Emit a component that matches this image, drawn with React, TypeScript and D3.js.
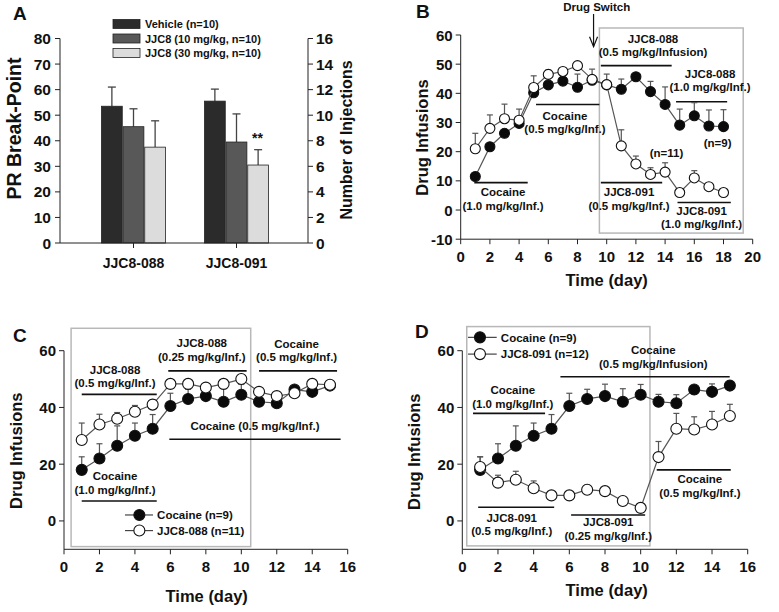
import React from "react";
import * as d3 from "d3";

const FONT = "'Liberation Sans', Arial, Helvetica, sans-serif";

// ---------- Panel A data ----------
const compoundsA = ["JJC8-088", "JJC8-091"];
const groupsA = ["Vehicle (n=10)", "JJC8 (10 mg/kg, n=10)", "JJC8 (30 mg/kg, n=10)"];
const meansA088 = [53.5, 45.5, 37.5];
const meansA091 = [55.5, 39.5, 30.5];
const semA088 = [7.5, 7, 10.3];
const semA091 = [4.7, 11, 6];
const yTicksA = [0, 10, 20, 30, 40, 50, 60, 70, 80];
const yRightTicksA = [0, 2, 4, 6, 8, 10, 12, 14, 16];
const colorsA = ["#2b2b2b", "#585858", "#dcdcdc"];

// ---------- Panel B data ----------
const daysB = [1, 2, 3, 4, 5, 6, 7, 8, 9, 10, 11, 12, 13, 14, 15, 16, 17, 18];
const jjc088B = [11.5, 21.7, 26.3, 29.7, 40.2, 42.9, 44.2, 42.1, 44.5, 42.9, 41.4, 45.7, 40.6, 36.2, 29.1, 32.3, 28.8, 28.6];
const semJjc088B = [0, 0, 0, 0, 0, 0, 0, 4.5, 0, 0, 3.5, 0, 3.5, 6, 5.5, 4.5, 5.5, 5.8];
const jjc091B = [21, 28, 31.3, 30.8, 42, 46.5, 47.5, 49.5, 44.8, 43, 22, 15.8, 12.2, 13, 6, 11, 8, 6];
const semJjc091B = [5.3, 4.6, 5, 3.8, 4, 1.5, 1, 1, 3.5, 3.6, 5.5, 2.7, 2.3, 3.2, 0, 2.5, 0, 0];
const xTicksB = [0, 2, 4, 6, 8, 10, 12, 14, 16, 18, 20];
const yTicksB = [-10, 0, 10, 20, 30, 40, 50, 60];

// ---------- Panels C & D data ----------
const daysCD = [1, 2, 3, 4, 5, 6, 7, 8, 9, 10, 11, 12, 13, 14, 15];
const cocaineCD = [18, 22, 26.5, 30, 32.5, 40.5, 43, 44, 42, 44.5, 42, 41.5, 46.3, 45.5, 47.7];
const semCocaineCD = [4.6, 5.2, 7, 4.5, 5, 4.5, 3.4, 4.2, 4.6, 3.6, 2.6, 3, 1, 2.8, 1.2];
const jjc088C = [28.5, 34, 36, 38.5, 41, 48.3, 48.3, 47, 48.3, 50, 45.5, 44, 45, 48.3, 48];
const semJjc088C = [6, 3.6, 2.2, 2.2, 1.6, 1, 1, 1.4, 1, 1, 1, 1, 1, 1, 1];
const jjc091D = [19, 13.5, 14.5, 11.5, 9, 9, 11, 10.5, 7, 4.6, 22.5, 32.5, 32.2, 34, 37];
const semJjc091D = [3.6, 2.6, 3, 2.6, 0.5, 0.5, 1.6, 1, 0.5, 0.5, 5.5, 5.4, 4.5, 4.6, 4.1];
const xTicksCD = [0, 2, 4, 6, 8, 10, 12, 14, 16];
const yTicksCD = [0, 20, 40, 60];

type Series = { values: number[]; sem: number[]; filled: boolean };
type Note = { lines: string[]; tx: number; ty: number; bar?: [number, number, number] };

const Bold = (p: any) => (
  <text fontFamily={FONT} fontWeight="bold" fill="#111" {...p} />
);

function PanelA() {
  const y = d3.scaleLinear().domain([0, 80]).range([243, 38.5]);
  const y2 = d3.scaleLinear().domain([0, 16]).range([243, 38.5]);
  const x = d3.scaleBand().domain(compoundsA).range([82, 288]);
  const x1 = d3.scaleBand().domain(groupsA).range([0, 64]).paddingInner(0.04);
  const means = [meansA088, meansA091];
  const sems = [semA088, semA091];
  const xl = 60, xr = 308;
  return (
    <g>
      <Bold x={13} y={20} fontSize={19}>A</Bold>
      {/* legend */}
      {groupsA.map((g, i) => (
        <g key={g}>
          <rect x={113} y={19.5 + i * 14.5} width={27} height={9} fill={colorsA[i]} stroke="#222" strokeWidth={0.8} />
          <Bold x={145} y={28 + i * 14.5} fontSize={11}>{g}</Bold>
        </g>
      ))}
      {/* bars */}
      {compoundsA.map((c, ci) => {
        const x0 = (x(c) as number) + x.bandwidth() / 2 - 32;
        return groupsA.map((g, gi) => {
          const bx = x0 + (x1(g) as number);
          const w = x1.bandwidth();
          const v = means[ci][gi];
          const top = y(v + sems[ci][gi]);
          return (
            <g key={c + g}>
              <line x1={bx + w / 2} x2={bx + w / 2} y1={y(v)} y2={top} stroke="#444" strokeWidth={1.3} />
              <line x1={bx + w / 2 - 4} x2={bx + w / 2 + 4} y1={top} y2={top} stroke="#444" strokeWidth={1.3} />
              <rect x={bx} y={y(v)} width={w} height={y(0) - y(v)} fill={colorsA[gi]} stroke="#222" strokeWidth={0.8} />
            </g>
          );
        });
      })}
      <Bold x={(x("JJC8-091") as number) + x.bandwidth() / 2 + 21} y={y(39)} fontSize={14} textAnchor="middle">**</Bold>
      {/* axes */}
      <line x1={xl} x2={xl} y1={y(80)} y2={y(0)} stroke="#222" />
      <line x1={xr} x2={xr} y1={y(80)} y2={y(0)} stroke="#222" />
      <line x1={xl} x2={xr} y1={y(0)} y2={y(0)} stroke="#222" />
      {yTicksA.map((t) => (
        <g key={"l" + t}>
          <line x1={xl - 5} x2={xl} y1={y(t)} y2={y(t)} stroke="#222" />
          <Bold x={xl - 9} y={y(t) + 5.5} fontSize={15.5} textAnchor="end">{t}</Bold>
        </g>
      ))}
      {yRightTicksA.map((t) => (
        <g key={"r" + t}>
          <line x1={xr} x2={xr + 5} y1={y2(t)} y2={y2(t)} stroke="#222" />
          <Bold x={xr + 8} y={y2(t) + 5.5} fontSize={15.5}>{t}</Bold>
        </g>
      ))}
      {compoundsA.map((c) => {
        const cx = (x(c) as number) + x.bandwidth() / 2;
        return (
          <g key={c}>
            <line x1={cx} x2={cx} y1={y(0)} y2={y(0) + 5} stroke="#222" />
            <Bold x={cx} y={268} fontSize={14} textAnchor="middle">{c}</Bold>
          </g>
        );
      })}
      <Bold transform="translate(21,128.5) rotate(-90)" fontSize={19.5} textAnchor="middle">PR Break-Point</Bold>
      <Bold transform="translate(352,140) rotate(-90)" fontSize={16} textAnchor="middle">Number of Injections</Bold>
    </g>
  );
}

type PanelCfg = {
  xRange: [number, number];
  xDomain: [number, number];
  yRange: [number, number];
  yDomain: [number, number];
  xTicks: number[];
  yTicks: number[];
  days: number[];
  series: Series[];
  r: number;
  box: [number, number, number, number];
  notes: Note[];
  legend?: { labels: string[]; mx: number; lx: [number, number]; tx: number; ys: number[] };
  letter: [string, number, number];
  ylab: [number, number];
  xlab: [number, number];
};

function LinePanel({ cfg }: { cfg: PanelCfg }) {
  const x = d3.scaleLinear().domain(cfg.xDomain).range(cfg.xRange);
  const y = d3.scaleLinear().domain(cfg.yDomain).range(cfg.yRange);
  const ax = x(cfg.xDomain[0]);
  const ay = y(cfg.yDomain[0]);
  const line = d3
    .line<number>()
    .x((_, i) => x(cfg.days[i]))
    .y((d) => y(d));
  const [b0, b1, bv0, bv1] = cfg.box;
  return (
    <g>
      <Bold x={cfg.letter[1]} y={cfg.letter[2]} fontSize={19}>{cfg.letter[0]}</Bold>
      <rect x={x(b0)} y={y(bv1)} width={x(b1) - x(b0)} height={y(bv0) - y(bv1)} fill="none" stroke="#b8b8b8" strokeWidth={1.5} />
      {/* axes */}
      <line x1={ax} x2={ax} y1={y(cfg.yDomain[1])} y2={ay} stroke="#222" />
      <line x1={ax} x2={x(cfg.xDomain[1])} y1={ay} y2={ay} stroke="#222" />
      {cfg.yTicks.map((t) => (
        <g key={"y" + t}>
          <line x1={ax - 5} x2={ax} y1={y(t)} y2={y(t)} stroke="#222" />
          <Bold x={ax - 8} y={y(t) + 5.5} fontSize={15} textAnchor="end">{t}</Bold>
        </g>
      ))}
      {cfg.xTicks.map((t) => (
        <g key={"x" + t}>
          <line x1={x(t)} x2={x(t)} y1={ay} y2={ay + 5} stroke="#222" />
          <Bold x={x(t)} y={ay + 22.4} fontSize={15} textAnchor="middle">{t}</Bold>
        </g>
      ))}
      <Bold transform={`translate(${cfg.ylab[0]},${cfg.ylab[1]}) rotate(-90)`} fontSize={16.5} textAnchor="middle">Drug Infusions</Bold>
      <Bold x={cfg.xlab[0]} y={cfg.xlab[1]} fontSize={16.5} textAnchor="middle">Time (day)</Bold>
      {/* notes */}
      {cfg.notes.map((n, i) => (
        <g key={"n" + i}>
          {n.lines.map((s, j) => (
            <Bold key={j} x={x(n.tx)} y={y(n.ty) + j * 13.5} fontSize={11.5} textAnchor="middle">{s}</Bold>
          ))}
          {n.bar && <line x1={x(n.bar[0])} x2={x(n.bar[1])} y1={y(n.bar[2])} y2={y(n.bar[2])} stroke="#111" strokeWidth={1.6} />}
        </g>
      ))}
      {/* error bars */}
      {cfg.series.map((s, si) =>
        s.values.map((v, i) =>
          s.sem[i] > 0 ? (
            <g key={"e" + si + "-" + i}>
              <line x1={x(cfg.days[i])} x2={x(cfg.days[i])} y1={y(v)} y2={y(v + s.sem[i])} stroke="#555" strokeWidth={1.2} />
              <line x1={x(cfg.days[i]) - 3} x2={x(cfg.days[i]) + 3} y1={y(v + s.sem[i])} y2={y(v + s.sem[i])} stroke="#555" strokeWidth={1.2} />
            </g>
          ) : null
        )
      )}
      {/* series */}
      {cfg.series.map((s, si) => (
        <g key={"s" + si}>
          <path d={line(s.values) || ""} fill="none" stroke="#555" strokeWidth={1.2} />
          {s.values.map((v, i) => (
            <circle key={i} cx={x(cfg.days[i])} cy={y(v)} r={cfg.r} fill={s.filled ? "#0a0a0a" : "#fff"} stroke="#111" strokeWidth={1.1} />
          ))}
        </g>
      ))}
      {/* legend */}
      {cfg.legend &&
        cfg.legend.labels.map((lab, i) => (
          <g key={"lg" + i}>
            <line x1={x(cfg.legend!.lx[0])} x2={x(cfg.legend!.lx[1])} y1={y(cfg.legend!.ys[i])} y2={y(cfg.legend!.ys[i])} stroke="#444" strokeWidth={1.2} />
            <circle cx={x(cfg.legend!.mx)} cy={y(cfg.legend!.ys[i])} r={cfg.r} fill={cfg.series[i].filled ? "#0a0a0a" : "#fff"} stroke="#111" strokeWidth={1.1} />
            <Bold x={x(cfg.legend!.tx)} y={y(cfg.legend!.ys[i]) + 4.3} fontSize={11.5}>{lab}</Bold>
          </g>
        ))}
    </g>
  );
}

const cfgB: PanelCfg = {
  xRange: [460.7, 752.7],
  xDomain: [0, 20],
  yRange: [239.2, 35],
  yDomain: [-10, 60],
  xTicks: xTicksB,
  yTicks: yTicksB,
  days: daysB,
  series: [
    { values: jjc088B, sem: semJjc088B, filled: true },
    { values: jjc091B, sem: semJjc091B, filled: false },
  ],
  r: 5,
  box: [9.5, 19.35, -7.9, 62.4],
  notes: [
    { lines: ["Cocaine", "(1.0 mg/kg/Inf.)"], tx: 2.9, ty: 4.8, bar: [0.93, 4.59, 9.4] },
    { lines: ["Cocaine", "(0.5 mg/kg/Inf.)"], tx: 7.14, ty: 30.9, bar: [5.16, 9.5, 36.2] },
    { lines: ["JJC8-088", "(0.5 mg/kg/Infusion)"], tx: 13.17, ty: 57.3, bar: [9.6, 14.45, 49.5] },
    { lines: ["JJC8-088", "(1.0 mg/kg/Inf.)"], tx: 17.08, ty: 45.3, bar: [14.75, 18.25, 37.1] },
    { lines: ["(n=9)"], tx: 17.6, ty: 21.6 },
    { lines: ["(n=11)"], tx: 14.1, ty: 18.2 },
    { lines: ["JJC8-091", "(0.5 mg/kg/Inf.)"], tx: 11.53, ty: 4.8, bar: [9.6, 13.8, 9.4] },
    { lines: ["JJC8-091", "(1.0 mg/kg/Inf.)"], tx: 16.5, ty: -1.7, bar: [14.85, 18.5, 2.6] },
  ],
  letter: ["B", 416, 18],
  ylab: [428, 137.5],
  xlab: [606.7, 286],
};

const cfgC: PanelCfg = {
  xRange: [64, 347.7],
  xDomain: [0, 16],
  yRange: [549.3, 350.7],
  yDomain: [-10, 60],
  xTicks: xTicksCD,
  yTicks: yTicksCD,
  days: daysCD,
  series: [
    { values: cocaineCD, sem: semCocaineCD, filled: true },
    { values: jjc088C, sem: semJjc088C, filled: false },
  ],
  r: 5.5,
  box: [0.4, 10.53, -9.05, 67.9],
  notes: [
    { lines: ["JJC8-088", "(0.5 mg/kg/Inf.)"], tx: 2.88, ty: 51.8, bar: [1.0, 5.23, 44.6] },
    { lines: ["JJC8-088", "(0.25 mg/kg/Inf.)"], tx: 7.77, ty: 61.2, bar: [5.88, 10.3, 52.9] },
    { lines: ["Cocaine", "(0.5 mg/kg/Inf.)"], tx: 13.12, ty: 61.0, bar: [11.0, 15.4, 52.9] },
    { lines: ["Cocaine (0.5 mg/kg/Inf.)"], tx: 10.77, ty: 32.1, bar: [5.94, 15.6, 28.8] },
    { lines: ["Cocaine", "(1.0 mg/kg/Inf.)"], tx: 2.88, ty: 14.4, bar: [1.0, 5.23, 7.0] },
  ],
  legend: { labels: ["Cocaine (n=9)", "JJC8-088 (n=11)"], mx: 4.25, lx: [3.44, 5.02], tx: 5.25, ys: [2.1, -3.4] },
  letter: ["C", 13, 342],
  ylab: [22, 450.7],
  xlab: [206.7, 602],
};

const cfgD: PanelCfg = {
  xRange: [462.3, 747.7],
  xDomain: [0, 16],
  yRange: [549.3, 350.7],
  yDomain: [-10, 60],
  xTicks: xTicksCD,
  yTicks: yTicksCD,
  days: daysCD,
  series: [
    { values: cocaineCD, sem: semCocaineCD, filled: true },
    { values: jjc091D, sem: semJjc091D, filled: false },
  ],
  r: 5.5,
  box: [0.25, 10.52, -8.8, 68.5],
  notes: [
    { lines: ["Cocaine", "(0.5 mg/kg/Infusion)"], tx: 10.71, ty: 58.8, bar: [5.5, 14.99, 50.8] },
    { lines: ["Cocaine", "(1.0 mg/kg/Inf.)"], tx: 2.83, ty: 44.6, bar: [0.6, 4.64, 37.9] },
    { lines: ["JJC8-091", "(0.5 mg/kg/Inf.)"], tx: 2.77, ty: -0.25, bar: [0.89, 5.15, 4.8] },
    { lines: ["JJC8-091", "(0.25 mg/kg/Inf.)"], tx: 8.18, ty: -1.8, bar: [6.1, 10.25, 2.1] },
    { lines: ["Cocaine", "(0.5 mg/kg/Inf.)"], tx: 13.32, ty: 13.3, bar: [10.9, 15.05, 18.0] },
  ],
  legend: { labels: ["Cocaine (n=9)", "JJC8-091 (n=12)"], mx: 0.99, lx: [0.32, 1.93], tx: 2.16, ys: [64.7, 58.8] },
  letter: ["D", 415, 338],
  ylab: [420, 451.7],
  xlab: [606.7, 596],
};

function DrugSwitch() {
  const x = d3.scaleLinear().domain(cfgB.xDomain).range(cfgB.xRange);
  const y = d3.scaleLinear().domain(cfgB.yDomain).range(cfgB.yRange);
  const ax = x(9.1);
  const tip = y(56);
  return (
    <g>
      <Bold x={596.7} y={11} fontSize={11.5} textAnchor="middle">Drug Switch</Bold>
      <line x1={ax} x2={ax} y1={14} y2={tip} stroke="#111" strokeWidth={1.2} />
      <path d={`M${ax - 4},${tip - 10} L${ax},${tip} L${ax + 4},${tip - 10}`} fill="none" stroke="#111" strokeWidth={1.2} />
    </g>
  );
}

export default function App() {
  return (
    <svg width={779} height={612} style={{ position: "absolute", left: 0, top: 0, background: "#fff" }}>
      <rect width={779} height={612} fill="#fff" />
      <PanelA />
      <LinePanel cfg={cfgB} />
      <DrugSwitch />
      <LinePanel cfg={cfgC} />
      <LinePanel cfg={cfgD} />
    </svg>
  );
}
